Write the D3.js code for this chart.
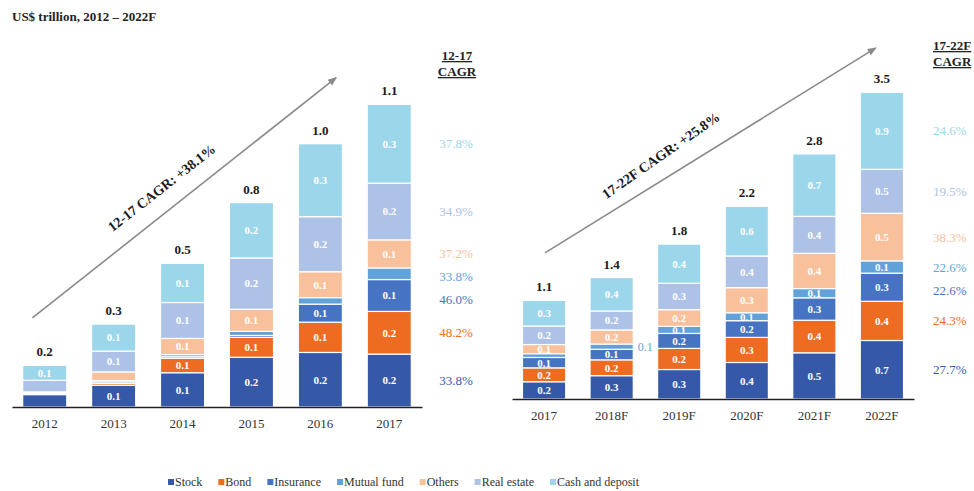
<!DOCTYPE html>
<html>
<head>
<meta charset="utf-8">
<script src="https://cdn.jsdelivr.net/npm/d3@7"></script>
<style>
  body { margin: 0; background: #fff; }
  svg { display: block; font-family: "Liberation Serif", "Times New Roman", serif; }
</style>
</head>
<body>
<svg id="chart" width="974" height="491"></svg>
<script>
'use strict';

/* ── data (US$ trillion) ─────────────────────────────────────── */
const years = ['2012', '2013', '2014', '2015', '2016', '2017', '2018F', '2019F', '2020F', '2021F', '2022F'];

const stock      = [0.046, 0.080, 0.127, 0.184, 0.202, 0.196, 0.265, 0.335, 0.415, 0.525, 0.665];
const bond       = [0.002, 0.007, 0.053, 0.074, 0.112, 0.158, 0.180, 0.240, 0.285, 0.370, 0.445];
const insurance  = [0.002, 0.006, 0.006, 0.007, 0.067, 0.118, 0.120, 0.170, 0.190, 0.255, 0.320];
const mutualFund = [0.002, 0.005, 0.008, 0.015, 0.024, 0.043, 0.060, 0.080, 0.090, 0.105, 0.140];
const others     = [0.004, 0.032, 0.060, 0.082, 0.096, 0.104, 0.160, 0.190, 0.285, 0.400, 0.540];
const realEstate = [0.043, 0.077, 0.133, 0.190, 0.204, 0.210, 0.215, 0.300, 0.360, 0.420, 0.500];
const cash       = [0.055, 0.100, 0.145, 0.205, 0.270, 0.292, 0.380, 0.445, 0.565, 0.710, 0.875];

const seriesNames  = ['Stock', 'Bond', 'Insurance', 'Mutual fund', 'Others', 'Real estate', 'Cash and deposit'];
const seriesColors = ['#3559a8', '#ee6b22', '#4674c2', '#62a2da', '#f8c19b', '#adc2e6', '#9bd6ea'];

const cagr1217 = ['33.8%', '48.2%', '46.0%', '33.8%', '37.2%', '34.9%', '37.8%'];
const cagr1722 = ['27.7%', '24.3%', '22.6%', '22.6%', '38.3%', '19.5%', '24.6%'];

/* ── setup ───────────────────────────────────────────────────── */
const keys = ['stock', 'bond', 'insurance', 'mutualFund', 'others', 'realEstate', 'cash'];
const cols = [stock, bond, insurance, mutualFund, others, realEstate, cash];
const rows = years.map((yr, i) => {
  const r = { year: yr };
  keys.forEach((k, j) => { r[k] = cols[j][i]; });
  return r;
});
const colorOf = d3.scaleOrdinal(keys, seriesColors);
const fmt = d3.format('.1f');

const svg = d3.select('#chart');

const defs = svg.append('defs');
defs.append('marker')
  .attr('id', 'arrowHead')
  .attr('viewBox', '0 0 10 10')
  .attr('refX', 9).attr('refY', 5)
  .attr('markerUnits', 'userSpaceOnUse')
  .attr('markerWidth', 10).attr('markerHeight', 9)
  .attr('orient', 'auto')
  .append('path').attr('d', 'M0,1 L10,5 L0,9 z').attr('fill', '#8a8a8a');

svg.append('text')
  .attr('x', 12).attr('y', 21)
  .attr('font-size', 13).attr('font-weight', 'bold').attr('fill', '#222')
  .text('US$ trillion, 2012 \u2013 2022F');

function drawPanel(p) {
  const data = rows.slice(p.from, p.to);
  const x = d3.scaleBand().domain(data.map(d => d.year))
    .range(p.xRange).paddingInner(0.36).paddingOuter(0.155);
  const y = d3.scaleLinear().domain([0, p.yMax]).range([p.baseline, p.yTop]);
  const bw = x.bandwidth();
  const stacked = d3.stack().keys(keys)(data);
  const g = svg.append('g');

  // growth arrow + label
  const ax0 = x(p.arrow.from[0]) + bw * p.arrow.from[1], ay0 = y(p.arrow.from[2]);
  const ax1 = x(p.arrow.to[0]) + bw * p.arrow.to[1],     ay1 = y(p.arrow.to[2]);
  g.append('line')
    .attr('x1', ax0).attr('y1', ay0).attr('x2', ax1).attr('y2', ay1)
    .attr('stroke', '#8a8a8a').attr('stroke-width', 1.6)
    .attr('marker-end', 'url(#arrowHead)');
  const len = Math.hypot(ax1 - ax0, ay1 - ay0);
  const ux = (ax1 - ax0) / len, uy = (ay1 - ay0) / len;
  const tx = ax0 + (ax1 - ax0) * p.arrowText.t + uy * 22;
  const ty = ay0 + (ay1 - ay0) * p.arrowText.t - ux * 22;
  g.append('text')
    .attr('transform', `translate(${tx},${ty}) rotate(${p.arrowText.angle})`)
    .attr('text-anchor', 'middle').attr('dy', '0.35em')
    .attr('font-size', 14).attr('font-weight', 'bold').attr('fill', '#1a1a1a')
    .text(p.arrowText.label);

  // stacked segments
  const layers = g.selectAll('g.layer').data(stacked).join('g')
    .attr('class', 'layer').attr('fill', d => colorOf(d.key));
  layers.selectAll('rect').data(d => d).join('rect')
    .attr('x', d => x(d.data.year))
    .attr('y', d => y(d[1]))
    .attr('width', bw)
    .attr('height', d => y(d[0]) - y(d[1]))
    .attr('stroke', '#fff').attr('stroke-width', 1.2);

  // value labels in segments
  stacked.forEach(layer => {
    layer.forEach(d => {
      const v = d[1] - d[0];
      if (v < 0.05) return;
      const h = y(d[0]) - y(d[1]);
      const cy = (y(d[0]) + y(d[1])) / 2;
      const outside = h < 6;
      g.append('text')
        .attr('x', outside ? x(d.data.year) + bw + 12 : x(d.data.year) + bw / 2)
        .attr('y', cy).attr('dy', '0.35em')
        .attr('text-anchor', 'middle')
        .attr('font-size', outside ? 12 : 11)
        .attr('font-weight', outside ? 'normal' : 'bold')
        .attr('fill', outside ? colorOf(layer.key) : '#fff')
        .text(fmt(v));
    });
  });

  // totals
  g.selectAll('text.total').data(data).join('text')
    .attr('class', 'total')
    .attr('x', d => x(d.year) + bw / 2)
    .attr('y', d => y(d3.sum(keys, k => d[k])) - 9)
    .attr('text-anchor', 'middle')
    .attr('font-size', 13).attr('font-weight', 'bold').attr('fill', '#1a1a1a')
    .text(d => fmt(d3.sum(keys, k => d[k])));

  // axis
  const axis = g.append('g')
    .attr('transform', `translate(0,${p.baseline})`)
    .call(d3.axisBottom(x).tickSize(0).tickPadding(12));
  axis.select('.domain').attr('stroke', '#222').attr('stroke-width', 1.5);
  axis.selectAll('text')
    .attr('font-family', '"Liberation Serif", serif')
    .attr('font-size', 13).attr('fill', '#333');

  // CAGR column, next to the last bar
  const last = stacked.map(l => l[l.length - 1]);
  const ys = last.map(d => (y(d[0]) + y(d[1])) / 2);
  for (let i = ys.length - 2; i >= 0; i--) ys[i] = Math.max(ys[i], ys[i + 1] + 23);
  g.selectAll('text.cagr').data(p.cagr).join('text')
    .attr('class', 'cagr')
    .attr('x', p.cagrX).attr('y', (d, i) => ys[i]).attr('dy', '0.35em')
    .attr('text-anchor', p.cagrAnchor)
    .attr('font-size', 13)
    .attr('fill', (d, i) => colorOf(keys[i]))
    .text(d => d);

  g.selectAll('text.head').data(p.head).join('text')
    .attr('class', 'head')
    .attr('x', p.headX).attr('y', (d, i) => p.headY[i])
    .attr('text-anchor', p.cagrAnchor)
    .attr('font-size', 13).attr('font-weight', 'bold').attr('fill', '#222')
    .attr('text-decoration', 'underline')
    .text(d => d);
}

drawPanel({
  from: 0, to: 6,
  xRange: [12, 422], baseline: 407, yMax: 1.2, yTop: 83,
  arrow: { from: ['2012', 0.22, 0.33], to: ['2016', 0.86, 1.22] },
  arrowText: { label: '12-17 CAGR: +38.1%', t: 0.47, angle: -38 },
  cagr: cagr1217, cagrX: 456, cagrAnchor: 'middle',
  head: ['12-17', 'CAGR'], headX: 457, headY: [60, 76],
});

drawPanel({
  from: 5, to: 11,
  xRange: [512, 914], baseline: 399, yMax: 3.6, yTop: 82.2,
  arrow: { from: ['2017', 0.52, 1.66], to: ['2022F', 0.36, 3.99] },
  arrowText: { label: '17-22F CAGR: +25.8%', t: 0.385, angle: -35 },
  cagr: cagr1722, cagrX: 933, cagrAnchor: 'start',
  head: ['17-22F', 'CAGR'], headX: 933, headY: [50, 66],
});

/* ── legend ─────────────────────────────────────────────────── */
const legend = svg.append('g').attr('transform', 'translate(168,482)');
let lx = 0;
seriesNames.forEach((name, i) => {
  const item = legend.append('g').attr('transform', `translate(${lx},0)`);
  item.append('rect').attr('x', 0).attr('y', -3).attr('width', 6).attr('height', 6)
    .attr('fill', seriesColors[i]);
  const t = item.append('text').attr('x', 7).attr('dy', '0.35em')
    .attr('font-size', 12).attr('fill', '#333').text(name);
  lx += 7 + t.node().getComputedTextLength() + 16;
});
</script>
</body>
</html>
